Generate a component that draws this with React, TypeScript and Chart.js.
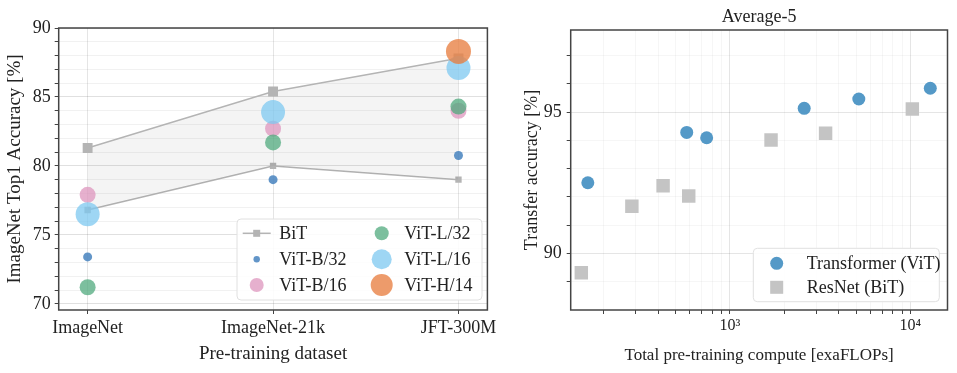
import React, { useEffect, useRef } from 'react';
import { Chart, registerables } from 'chart.js';
Chart.register(...registerables);

const FONT = "'Liberation Serif', 'Times New Roman', serif";

// ---- Left chart data ----
const pretrainDatasets = ['ImageNet', 'ImageNet-21k', 'JFT-300M'];
const bitUpper = [81.3, 85.4, 87.8];
const bitLower = [76.8, 80.0, 79.0];
const vitB32 = [73.4, 79.0, 80.75];
const vitB16 = [77.9, 82.7, 84.0];
const vitL32 = [71.2, 81.7, 84.3];
const vitL16 = [76.5, 83.9, 87.1];
const vitH14: (number | null)[] = [null, null, 88.3];
const leftYTicks = [70, 71, 72, 73, 74, 75, 76, 77, 78, 79, 80, 81, 82, 83, 84, 85, 86, 87, 88, 89, 90];
const leftYLabels = [70, 75, 80, 85, 90];

// ---- Right chart data ----
const vitCompute = [163, 576, 743, 2580, 5180, 12900];
const vitTransfer = [92.5, 94.28, 94.09, 95.13, 95.46, 95.84];
const bitCompute = [150, 286, 426, 591, 1690, 3390, 10260];
const bitTransfer = [89.32, 91.67, 92.39, 92.03, 94.01, 94.25, 95.11];
const rightXTicks = [200, 300, 400, 500, 600, 700, 800, 900, 1000, 2000, 3000, 4000, 5000, 6000, 7000, 8000, 9000, 10000];
const rightXLabels: Record<number, string> = { 1000: '10³', 10000: '10⁴' };
const rightYTicks = [89, 90, 91, 92, 93, 94, 95, 96, 97];
const rightYLabels = [90, 95];

const COL_B32 = 'rgba(70,130,190,0.85)';
const COL_B16 = 'rgba(222,150,190,0.75)';
const COL_L32 = 'rgba(80,170,125,0.75)';
const COL_L16 = 'rgba(125,200,240,0.75)';
const COL_H14 = 'rgba(232,130,70,0.8)';
const COL_BIT = '#b4b4b4';
const COL_VIT_R = '#5499c7';
const COL_BIT_R = '#c4c4c4';

const pts = (arr: (number | null)[]) =>
  arr.map((y, i) => (y === null ? null : { x: i, y })).filter(Boolean) as { x: number; y: number }[];

const boxPlugin = {
  id: 'box',
  afterDatasetsDraw(chart: any) {
    const { ctx, chartArea: a } = chart;
    ctx.save();
    ctx.strokeStyle = '#444';
    ctx.lineWidth = 1.5;
    ctx.strokeRect(a.left, a.top, a.right - a.left, a.bottom - a.top);
    ctx.restore();
  },
};

function roundRect(ctx: CanvasRenderingContext2D, x: number, y: number, w: number, h: number, r: number) {
  ctx.beginPath();
  ctx.moveTo(x + r, y);
  ctx.lineTo(x + w - r, y);
  ctx.quadraticCurveTo(x + w, y, x + w, y + r);
  ctx.lineTo(x + w, y + h - r);
  ctx.quadraticCurveTo(x + w, y + h, x + w - r, y + h);
  ctx.lineTo(x + r, y + h);
  ctx.quadraticCurveTo(x, y + h, x, y + h - r);
  ctx.lineTo(x, y + r);
  ctx.quadraticCurveTo(x, y, x + r, y);
  ctx.closePath();
}

type LegendItem = { label: string; kind: 'circle' | 'square' | 'line'; color: string; r: number; col: number; row: number };

function makeLegendPlugin(id: string, box: { x: number; y: number; w: number; h: number }, rows: number[], markerX: number[], textX: number[], items: LegendItem[]) {
  return {
    id,
    afterDraw(chart: any) {
      const ctx: CanvasRenderingContext2D = chart.ctx;
      ctx.save();
      roundRect(ctx, box.x, box.y, box.w, box.h, 4);
      ctx.fillStyle = 'rgba(255,255,255,0.85)';
      ctx.fill();
      ctx.strokeStyle = '#e0e0e0';
      ctx.lineWidth = 1;
      ctx.stroke();
      ctx.font = `18px ${FONT}`;
      ctx.textBaseline = 'middle';
      ctx.textAlign = 'left';
      for (const it of items) {
        const mx = markerX[it.col];
        const my = rows[it.row];
        ctx.fillStyle = it.color;
        if (it.kind === 'circle') {
          ctx.beginPath();
          ctx.arc(mx, my, it.r, 0, Math.PI * 2);
          ctx.fill();
        } else if (it.kind === 'square') {
          ctx.fillRect(mx - it.r, my - it.r, it.r * 2, it.r * 2);
        } else {
          ctx.strokeStyle = it.color;
          ctx.lineWidth = 1.5;
          ctx.beginPath();
          ctx.moveTo(mx - 14, my);
          ctx.lineTo(mx + 14, my);
          ctx.stroke();
          ctx.fillRect(mx - it.r, my - it.r, it.r * 2, it.r * 2);
        }
        ctx.fillStyle = '#222';
        ctx.fillText(it.label, textX[it.col], my + 1);
      }
      ctx.restore();
    },
  };
}

const titlePlugin = {
  id: 'rtitle',
  afterDraw(chart: any) {
    const { ctx, chartArea: a } = chart;
    ctx.save();
    ctx.font = `18px ${FONT}`;
    ctx.fillStyle = '#222';
    ctx.textAlign = 'center';
    ctx.textBaseline = 'middle';
    ctx.fillText('Average-5', (a.left + a.right) / 2, a.top - 13);
    ctx.restore();
  },
};

function LeftChart() {
  const ref = useRef<HTMLCanvasElement>(null);
  useEffect(() => {
    const legend = makeLegendPlugin(
      'leftLegend',
      { x: 237, y: 219, w: 245, h: 81 },
      [233.3, 259.3, 285],
      [256.7, 381.7],
      [279.3, 404.3],
      [
        { label: 'BiT', kind: 'line', color: COL_BIT, r: 3.5, col: 0, row: 0 },
        { label: 'ViT-B/32', kind: 'circle', color: COL_B32, r: 3.2, col: 0, row: 1 },
        { label: 'ViT-B/16', kind: 'circle', color: COL_B16, r: 7, col: 0, row: 2 },
        { label: 'ViT-L/32', kind: 'circle', color: COL_L32, r: 7, col: 1, row: 0 },
        { label: 'ViT-L/16', kind: 'circle', color: COL_L16, r: 10, col: 1, row: 1 },
        { label: 'ViT-H/14', kind: 'circle', color: COL_H14, r: 11, col: 1, row: 2 },
      ]
    );
    const chart = new Chart(ref.current!, {
      type: 'scatter',
      data: {
        datasets: [
          { type: 'line', label: 'BiT', data: pts(bitUpper), borderColor: COL_BIT, borderWidth: 1.5, pointStyle: 'rect', pointRadius: 7, pointBackgroundColor: COL_BIT, pointBorderWidth: 0, fill: '+1', backgroundColor: 'rgba(0,0,0,0.045)', order: 10 } as any,
          { type: 'line', label: 'BiT-lower', data: pts(bitLower), borderColor: COL_BIT, borderWidth: 1.5, pointStyle: 'rect', pointRadius: 4.5, pointBackgroundColor: COL_BIT, pointBorderWidth: 0, fill: false, order: 11 } as any,
          { label: 'ViT-B/32', data: pts(vitB32), backgroundColor: COL_B32, pointRadius: 4.5, borderWidth: 0, order: 5 },
          { label: 'ViT-B/16', data: pts(vitB16), backgroundColor: COL_B16, pointRadius: 8, borderWidth: 0, order: 4 },
          { label: 'ViT-L/32', data: pts(vitL32), backgroundColor: COL_L32, pointRadius: 8, borderWidth: 0, order: 3 },
          { label: 'ViT-L/16', data: pts(vitL16), backgroundColor: COL_L16, pointRadius: 12, borderWidth: 0, order: 2 },
          { label: 'ViT-H/14', data: pts(vitH14), backgroundColor: COL_H14, pointRadius: 12.5, borderWidth: 0, order: 1 },
        ],
      },
      options: {
        responsive: false,
        animation: false,
        layout: { padding: { top: 28, right: 8, left: 0, bottom: 0 } },
        plugins: { legend: { display: false }, tooltip: { enabled: false } },
        scales: {
          x: {
            type: 'linear',
            min: -0.156,
            max: 2.156,
            afterBuildTicks: (s: any) => { s.ticks = [0, 1, 2].map((v) => ({ value: v })); },
            afterFit: (s: any) => { s.height = 63; },
            ticks: { callback: (v: any) => pretrainDatasets[v] ?? '', font: { family: FONT, size: 18 }, color: '#222', padding: 3, maxRotation: 0, autoSkip: false },
            grid: { color: 'rgba(0,0,0,0.1)', tickColor: '#444', tickLength: 4 },
            border: { display: false },
            title: { display: true, text: 'Pre-training dataset', font: { family: FONT, size: 19 }, color: '#222', padding: { top: 0, bottom: 8 } },
          },
          y: {
            type: 'linear',
            min: 69.55,
            max: 90,
            afterBuildTicks: (s: any) => { s.ticks = leftYTicks.map((v) => ({ value: v })); },
            afterFit: (s: any) => { s.width = 58.7; },
            ticks: { callback: (v: any) => (leftYLabels.includes(v) ? String(v) : ''), font: { family: FONT, size: 18 }, color: '#222', padding: 4, autoSkip: false },
            grid: { color: (c: any) => (c.tick && c.tick.value % 5 === 0 ? 'rgba(0,0,0,0.12)' : 'rgba(0,0,0,0.055)'), tickColor: '#444', tickLength: 4 },
            border: { display: false },
            title: { display: true, text: 'ImageNet Top1 Accuracy [%]', font: { family: FONT, size: 19 }, color: '#222', padding: { top: 4, bottom: 0 } },
          },
        },
      },
      plugins: [boxPlugin, legend],
    } as any);
    return () => chart.destroy();
  }, []);
  return <canvas ref={ref} width={500} height={373} style={{ position: 'absolute', left: 0, top: 0 }} />;
}

function RightChart() {
  const ref = useRef<HTMLCanvasElement>(null);
  useEffect(() => {
    const legend = makeLegendPlugin(
      'rightLegend',
      { x: 253.3, y: 248.3, w: 186, h: 53.4 },
      [263.3, 287.3],
      [276.7],
      [306.7],
      [
        { label: 'Transformer (ViT)', kind: 'circle', color: COL_VIT_R, r: 6.5, col: 0, row: 0 },
        { label: 'ResNet (BiT)', kind: 'square', color: COL_BIT_R, r: 6.5, col: 0, row: 1 },
      ]
    );
    const chart = new Chart(ref.current!, {
      type: 'scatter',
      data: {
        datasets: [
          { label: 'Transformer (ViT)', data: vitCompute.map((x, i) => ({ x, y: vitTransfer[i] })), backgroundColor: COL_VIT_R, pointRadius: 6.5, borderWidth: 0 },
          { label: 'ResNet (BiT)', data: bitCompute.map((x, i) => ({ x, y: bitTransfer[i] })), backgroundColor: COL_BIT_R, pointStyle: 'rect', pointRadius: 9.5, borderWidth: 0 },
        ],
      },
      options: {
        responsive: false,
        animation: false,
        layout: { padding: { top: 30, right: 9, left: 0, bottom: 0 } },
        plugins: { legend: { display: false }, tooltip: { enabled: false } },
        scales: {
          x: {
            type: 'logarithmic',
            min: 131,
            max: 16070,
            afterBuildTicks: (s: any) => { s.ticks = rightXTicks.map((v) => ({ value: v })); },
            afterFit: (s: any) => { s.height = 63; },
            ticks: { callback: (v: any) => rightXLabels[v] ?? '', font: { family: FONT, size: 16 }, color: '#222', padding: 2, maxRotation: 0, autoSkip: false },
            grid: { color: (c: any) => (c.tick && rightXLabels[c.tick.value] ? 'rgba(0,0,0,0.1)' : 'rgba(0,0,0,0.035)'), tickColor: '#444', tickLength: 4 },
            border: { display: false },
            title: { display: true, text: 'Total pre-training compute [exaFLOPs]', font: { family: FONT, size: 17 }, color: '#222', padding: { top: 0, bottom: 7 } },
          },
          y: {
            type: 'linear',
            min: 88,
            max: 97.9,
            afterBuildTicks: (s: any) => { s.ticks = rightYTicks.map((v) => ({ value: v })); },
            afterFit: (s: any) => { s.width = 70.7; },
            ticks: { callback: (v: any) => (rightYLabels.includes(v) ? String(v) : ''), font: { family: FONT, size: 18 }, color: '#222', padding: 5, autoSkip: false },
            grid: { color: (c: any) => (c.tick && c.tick.value % 5 === 0 ? 'rgba(0,0,0,0.1)' : 'rgba(0,0,0,0.035)'), tickColor: '#444', tickLength: 4 },
            border: { display: false },
            title: { display: true, text: 'Transfer accuracy [%]', font: { family: FONT, size: 18 }, color: '#222', padding: { top: 21, bottom: 0 } },
          },
        },
      },
      plugins: [boxPlugin, legend, titlePlugin],
    } as any);
    return () => chart.destroy();
  }, []);
  return <canvas ref={ref} width={457} height={373} style={{ position: 'absolute', left: 500, top: 0 }} />;
}

export default function App() {
  return (
    <div style={{ position: 'fixed', left: 0, top: 0, width: 957, height: 373, background: '#fff', overflow: 'hidden' }}>
      <LeftChart />
      <RightChart />
    </div>
  );
}
